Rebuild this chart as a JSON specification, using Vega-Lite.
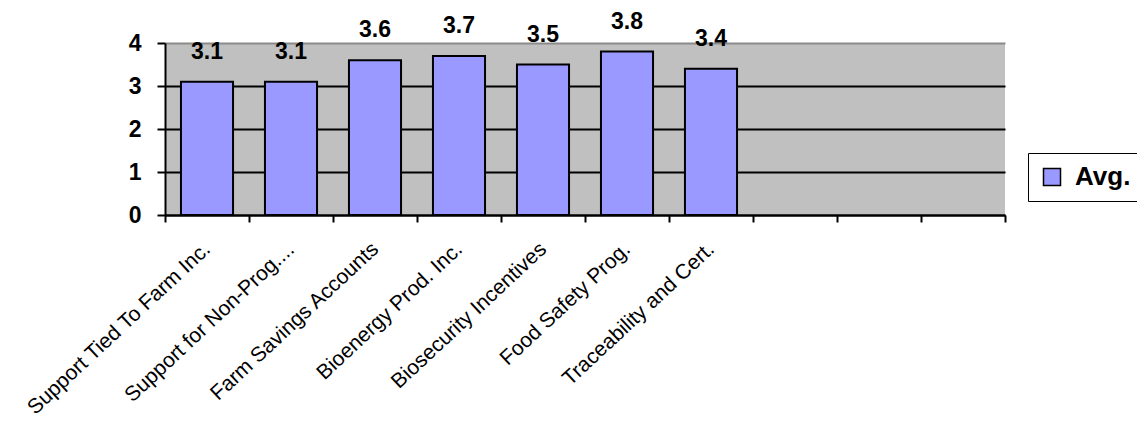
{
  "$schema": "https://vega.github.io/schema/vega-lite/v6.json",
  "width": 840,
  "height": 172,
  "autosize": {"type": "none"},
  "padding": {"left": 165, "top": 43, "right": 132, "bottom": 210},
  "background": "white",
  "config": {
    "view": {"fill": "#c0c0c0", "stroke": null},
    "font": "Liberation Sans"
  },
  "data": {
    "values": [
      {"category": "Support Tied To Farm Inc.", "avg": 3.1, "series": "Avg."},
      {"category": "Support for Non-Prog....", "avg": 3.1, "series": "Avg."},
      {"category": "Farm Savings Accounts", "avg": 3.6, "series": "Avg."},
      {"category": "Bioenergy Prod. Inc.", "avg": 3.7, "series": "Avg."},
      {"category": "Biosecurity Incentives", "avg": 3.5, "series": "Avg."},
      {"category": "Food Safety Prog.", "avg": 3.8, "series": "Avg."},
      {"category": "Traceability and Cert.", "avg": 3.4, "series": "Avg."}
    ]
  },
  "encoding": {
    "x": {
      "field": "category",
      "type": "nominal",
      "sort": null,
      "scale": {
        "domain": ["Support Tied To Farm Inc.", "Support for Non-Prog....", "Farm Savings Accounts", "Bioenergy Prod. Inc.", "Biosecurity Incentives", "Food Safety Prog.", "Traceability and Cert.", "_blank1", "_blank2", "_blank3"],
        "paddingInner": 0,
        "paddingOuter": 0
      },
      "axis": {
        "title": null,
        "grid": false,
        "tickBand": "extent",
        "tickSize": 7,
        "tickWidth": 2,
        "tickColor": "black",
        "domainColor": "black",
        "domainWidth": 2,
        "labelAngle": -43,
        "labelAlign": "right",
        "labelBaseline": "middle",
        "labelFontSize": 21,
        "labelColor": "black",
        "labelPadding": 24,
        "labelOverlap": false,
        "labelLimit": 400,
        "labelExpr": "indexof(datum.label, '_blank') >= 0 ? '' : datum.label"
      }
    },
    "y": {
      "field": "avg",
      "type": "quantitative",
      "scale": {"domain": [0, 4], "nice": false},
      "axis": {
        "title": null,
        "values": [0, 1, 2, 3, 4],
        "grid": true,
        "gridColor": {"condition": {"test": "datum.value === 4", "value": "#8a8a8a"}, "value": "black"},
        "gridWidth": 2,
        "tickSize": 8,
        "tickWidth": 2,
        "tickColor": "black",
        "domainColor": "black",
        "domainWidth": 2,
        "labelFontSize": 23,
        "labelFontWeight": "bold",
        "labelColor": "black",
        "labelPadding": 16
      }
    }
  },
  "layer": [
    {
      "mark": {"type": "bar", "stroke": "black", "strokeWidth": 2, "width": {"band": 0.62}},
      "encoding": {
        "color": {
          "field": "series",
          "type": "nominal",
          "scale": {"range": ["#9999ff"]},
          "legend": {
            "title": null,
            "orient": "none",
            "legendX": 863,
            "legendY": 110,
            "strokeColor": "black",
            "fillColor": "white",
            "padding": 11,
            "symbolType": "square",
            "symbolSize": 289,
            "symbolStrokeColor": "black",
            "symbolStrokeWidth": 1.5,
            "labelFontSize": 26,
            "labelFontWeight": "bold",
            "labelColor": "black",
            "labelOffset": 10
          }
        }
      }
    },
    {
      "mark": {"type": "text", "dy": -30, "fontSize": 23, "fontWeight": "bold", "color": "black", "baseline": "middle"},
      "encoding": {
        "text": {"field": "avg", "type": "quantitative", "format": ".1f"}
      }
    }
  ]
}
